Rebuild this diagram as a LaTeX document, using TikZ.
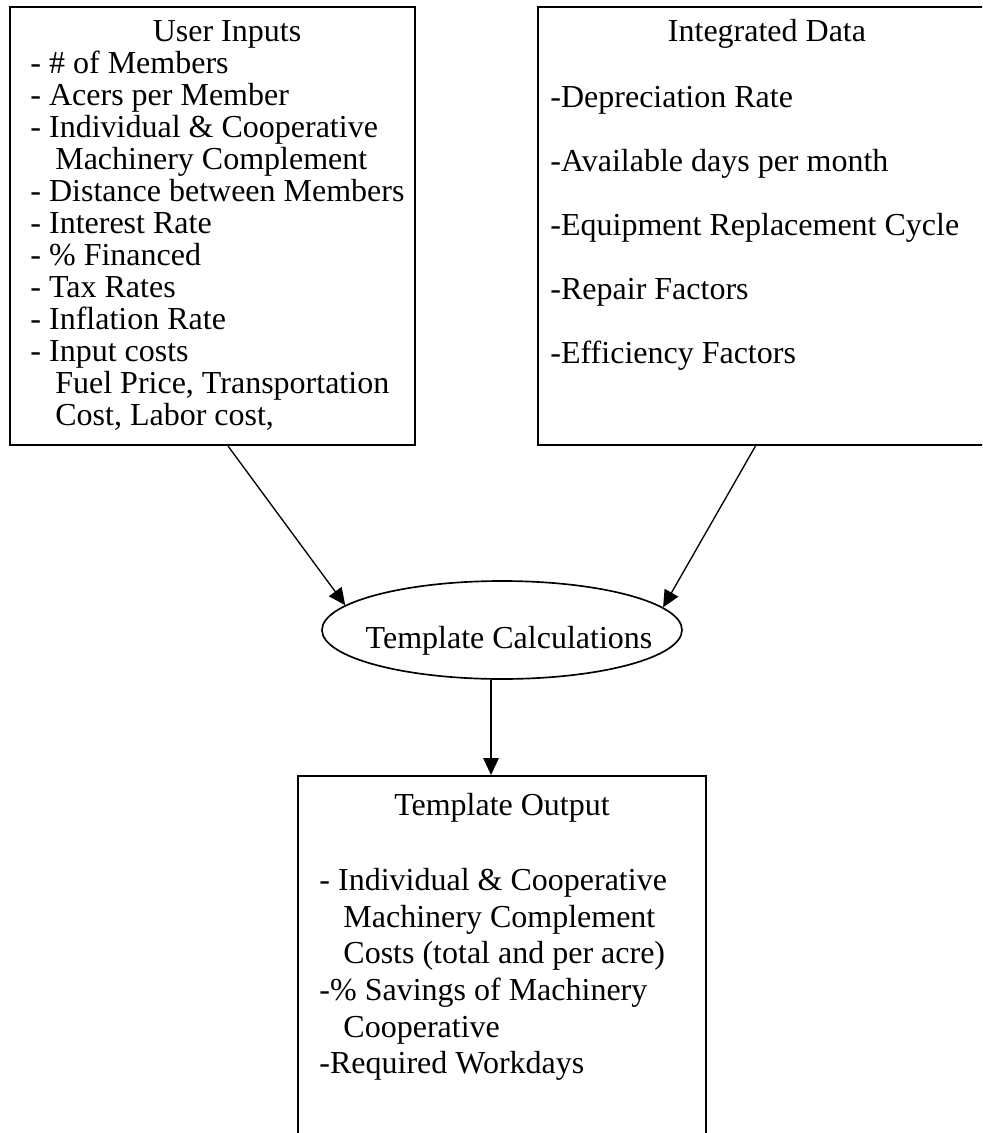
\documentclass[tikz,border=0pt]{standalone}
\usepackage{fontspec}
\setmainfont{Liberation Serif}
\usetikzlibrary{shapes.geometric,fit,arrows.meta}

\begin{document}
\begin{tikzpicture}[x=0.45pt,y=-0.45pt,
    box/.style={draw=black, line width=1pt, inner sep=0pt},
    calcshape/.style={draw=black, ellipse, line width=0.75pt, inner sep=0pt, minimum width=162pt, minimum height=44.1pt},
    txt/.style={inner sep=0pt, font=\fontsize{14.4}{14.4}\selectfont},
    list/.style={txt, align=left, anchor=north west},
    flow/.style={-{Triangle[length=7.6pt,width=7pt]}, line width=0.6pt}]
  \useasboundingbox (0,0) rectangle (982,1133);
  \clip (0,0) rectangle (982,1133);

  % the three boxes and the ellipse
  \node [box, fit={(10,7) (415,445)}]   (inputs) {};
  \node [box, fit={(538,7) (1000,445)}] (data) {};
  \node [box, fit={(298,776) (706,1160)}] (output) {};
  \node [calcshape] (calc) at (502,630) {};

  % user inputs
  \node [txt, anchor=base] (inputstitle) at (227,42) {User Inputs};
  \node [list] (inputslist) at (30,50.6) {\strut- \# of Members\\
    - Acers per Member\\
    - Individual \& Cooperative\\
    \hspace*{11.2pt}Machinery Complement\\
    - Distance between Members\\
    - Interest Rate\\
    - \% Financed\\
    - Tax Rates\\
    - Inflation Rate\\
    - Input costs\\
    \hspace*{11.2pt}Fuel Price, Transportation\\
    \hspace*{11.2pt}Cost, Labor cost,};

  % integrated data
  \node [txt, anchor=base] (datatitle) at (767,42) {Integrated Data};
  \node [list] (datalist) at (550,84.3) {\strut-Depreciation Rate\\[14.4pt]
    -Available days per month\\[14.4pt]
    -Equipment Replacement Cycle\\[14.4pt]
    -Repair Factors\\[14.4pt]
    -Efficiency Factors};

  % calculations
  \node [txt, anchor=base] (calctext) at (509,648) {Template Calculations};

  % output
  \node [txt, anchor=base] (outputtitle) at (502,815) {Template Output};
  \node [list, font=\fontsize{14.4}{16.5}\selectfont] (outputlist) at (319,864.3) {\strut- Individual \& Cooperative\\
    \hspace*{10.8pt}Machinery Complement\\
    \hspace*{10.8pt}Costs (total and per acre)\\
    -\% Savings of Machinery\\
    \hspace*{10.8pt}Cooperative\\
    -Required Workdays};

  % arrows
  \draw [flow] ([xshift=7pt]inputs.south) -- (calc.171.8);
  \draw [flow] ([xshift=-6.1pt]data.south) -- (calc.8.3);
  \draw [flow] ([xshift=-4.95pt]calc.south) -- ([xshift=-4.95pt]output.north);
\end{tikzpicture}
\end{document}
